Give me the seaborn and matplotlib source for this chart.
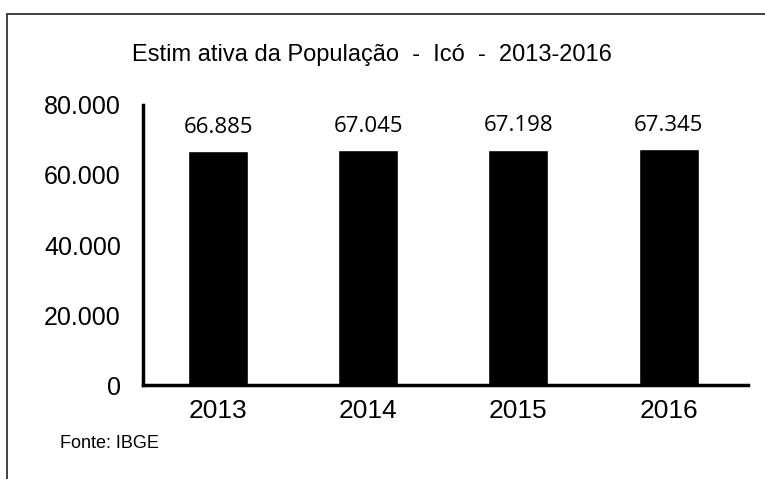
import matplotlib
matplotlib.use("Agg")
import matplotlib.pyplot as plt
import seaborn as sb
import pandas as pd
from matplotlib.patches import Rectangle

anos = ["2013", "2014", "2015", "2016"]
populacao = [66885, 67045, 67198, 67345]
y_ticks = [0, 20000, 40000, 60000, 80000]

df = pd.DataFrame({"ano": anos, "pop": populacao})

sb.set_style("white", {"text.color": "black", "xtick.color": "black",
                       "ytick.color": "black"})
plt.rcParams["font.family"] = ["Liberation Sans", "DejaVu Sans"]


def fmt(v):
    return f"{v:,}".replace(",", ".")


fig = plt.figure(figsize=(7.65, 4.79), dpi=100)
ax = fig.add_axes([0.187, 0.196, 0.791, 0.585])

sb.barplot(data=df, x="ano", y="pop", color="black", width=0.4,
           saturation=1, ax=ax)

for i, v in enumerate(populacao):
    ax.text(i, v + 3800, fmt(v), ha="center", va="bottom", color="black",
            fontsize=16, family=["Open Sans", "DejaVu Sans"])

ax.set_ylim(0, 80000)
ax.set_xlim(-0.5, 3.53)
ax.set_yticks(y_ticks)
ax.set_yticklabels([fmt(t) for t in y_ticks], fontsize=18)
ax.tick_params(axis="y", length=0, pad=16)
ax.tick_params(axis="x", length=0, pad=10, labelsize=19)
ax.set_xlabel("")
ax.set_ylabel("")
for s in ["top", "right"]:
    ax.spines[s].set_visible(False)
for s in ["left", "bottom"]:
    ax.spines[s].set_color("black")
    ax.spines[s].set_linewidth(2.5)

fig.text(0.486, 0.885, "Estim ativa da População  -  Icó  -  2013-2016",
         ha="center", va="center", fontsize=17, color="black")
fig.text(0.079, 0.075, "Fonte: IBGE", ha="left", va="center",
         fontsize=13, color="black")

fig.patches.append(Rectangle((0.009, -0.05), 1.2, 1.02, transform=fig.transFigure,
                             fill=False, edgecolor="#333333", linewidth=1.3))

fig.savefig("out.png", dpi=100)
